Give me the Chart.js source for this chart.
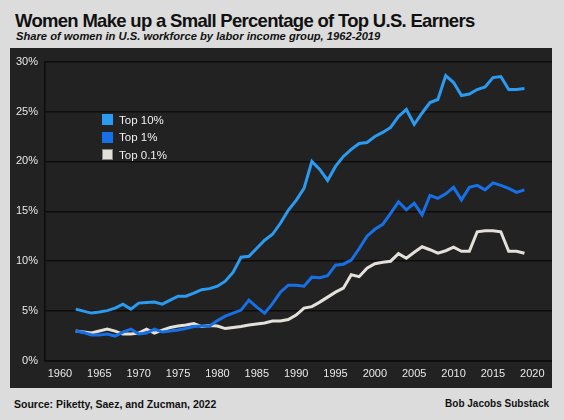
<!DOCTYPE html>
<html>
<head>
<meta charset="utf-8">
<script src="https://cdn.jsdelivr.net/npm/chart.js@4.4.1/dist/chart.umd.min.js"></script>
<style>
  html, body { margin: 0; padding: 0; }
  body {
    width: 564px; height: 420px; overflow: hidden; position: relative;
    background: #dcdcdc;
    font-family: "Liberation Sans", Arial, sans-serif;
  }
  #title { position: absolute; left: 15px; top: 10px; font-size: 18.5px; letter-spacing: -0.7px; font-weight: bold; color: #111; white-space: nowrap; }
  #subtitle { position: absolute; left: 16px; top: 30px; font-size: 11.2px; font-weight: bold; font-style: italic; color: #111; white-space: nowrap; }
  #panel { position: absolute; left: 10px; top: 48px; width: 542px; height: 340px; background: #222222; }
  #legend { position: absolute; left: 92px; top: 63px; }
  .item { display: flex; align-items: center; height: 17.5px; color: #f0f0f0; font-size: 11.5px; }
  .box { width: 11px; height: 11px; margin-right: 6px; box-sizing: border-box; }
  #source { position: absolute; left: 14px; top: 398px; font-size: 10.5px; font-weight: bold; color: #111; white-space: nowrap; }
  #credit { position: absolute; right: 15px; top: 398px; font-size: 10px; font-weight: bold; color: #111; white-space: nowrap; }
</style>
</head>
<body>
<div id="title">Women Make up a Small Percentage of Top U.S. Earners</div>
<div id="subtitle">Share of women in U.S. workforce by labor income group, 1962-2019</div>
<div id="panel">
  <canvas id="lineChart" width="542" height="340"></canvas>
  <div id="legend"></div>
</div>
<div id="source">Source: Piketty, Saez, and Zucman, 2022</div>
<div id="credit">Bob Jacobs Substack</div>
<script>
// Years 1962-2019
const years = [1962, 1963, 1964, 1965, 1966, 1967, 1968, 1969, 1970, 1971,
  1972, 1973, 1974, 1975, 1976, 1977, 1978, 1979, 1980, 1981,
  1982, 1983, 1984, 1985, 1986, 1987, 1988, 1989, 1990, 1991,
  1992, 1993, 1994, 1995, 1996, 1997, 1998, 1999, 2000, 2001,
  2002, 2003, 2004, 2005, 2006, 2007, 2008, 2009, 2010, 2011,
  2012, 2013, 2014, 2015, 2016, 2017, 2018, 2019];

// Share of women (%)
const top10 = [5.2, 5.0, 4.8, 4.9, 5.05, 5.3, 5.7, 5.2, 5.8, 5.85,
  5.9, 5.7, 6.1, 6.5, 6.5, 6.8, 7.15, 7.25, 7.5, 8.0,
  8.9, 10.4, 10.5, 11.3, 12.1, 12.7, 13.8, 15.1, 16.1, 17.3,
  20.0, 19.2, 18.1, 19.5, 20.5, 21.2, 21.8, 21.9, 22.5, 22.9,
  23.4, 24.5, 25.2, 23.7, 24.85, 25.9, 26.2, 28.6, 27.9, 26.6,
  26.75, 27.2, 27.45, 28.4, 28.5, 27.2, 27.2, 27.3];

const top1 = [3.0, 2.85, 2.6, 2.6, 2.7, 2.5, 2.9, 3.2, 2.7, 2.8,
  3.2, 2.9, 3.0, 3.1, 3.25, 3.45, 3.5, 3.5, 4.05, 4.5,
  4.8, 5.1, 6.1, 5.4, 4.8, 5.75, 6.9, 7.6, 7.6, 7.5,
  8.4, 8.35, 8.55, 9.6, 9.7, 10.1, 11.25, 12.5, 13.2, 13.7,
  14.8, 15.95, 15.15, 15.8, 14.65, 16.6, 16.3, 16.75, 17.4, 16.15,
  17.4, 17.6, 17.15, 17.85, 17.6, 17.3, 16.9, 17.15];

const top01 = [3.0, 2.9, 2.8, 3.0, 3.2, 3.0, 2.7, 2.7, 2.8, 3.2,
  2.8, 3.1, 3.35, 3.5, 3.6, 3.75, 3.45, 3.55, 3.5, 3.25,
  3.35, 3.45, 3.6, 3.7, 3.8, 4.0, 4.0, 4.15, 4.6, 5.3,
  5.45, 5.9, 6.4, 6.9, 7.3, 8.65, 8.45, 9.3, 9.75, 9.9,
  10.0, 10.75, 10.3, 10.9, 11.45, 11.15, 10.8, 11.05, 11.4, 11.0,
  11.0, 12.95, 13.05, 13.05, 12.95, 11.0, 11.0, 10.8];

const xTicks = [1960, 1965, 1970, 1975, 1980, 1985, 1990, 1995, 2000, 2005, 2010, 2015, 2020];
const yTicks = [0, 5, 10, 15, 20, 25, 30];

const seriesLabels = ['Top 10%', 'Top 1%', 'Top 0.1%'];
const seriesColors = ['#2a9bf0', '#1670e6', '#e4e0da'];

const toPoints = vals => years.map((yr, i) => ({ x: yr, y: vals[i] }));

const ctx = document.getElementById('lineChart').getContext('2d');
const chart = new Chart(ctx, {
    type: 'line',
    data: {
        datasets: [top10, top1, top01].map((vals, i) => ({
            label: seriesLabels[i],
            data: toPoints(vals),
            borderColor: seriesColors[i],
            backgroundColor: seriesColors[i],
            borderWidth: 3,
            pointRadius: 0,
            tension: 0
        }))
    },
    options: {
        responsive: false,
        animation: false,
        layout: { padding: { top: 4, right: 0, left: 0, bottom: 0 } },
        plugins: {
            legend: { display: false },
            tooltip: { enabled: false }
        },
        scales: {
            x: {
                type: 'linear',
                min: 1958.1,
                max: 2022.5,
                afterBuildTicks: scale => { scale.ticks = xTicks.map(v => ({ value: v })); },
                afterFit: scale => { scale.height = 27; },
                grid: { display: false, drawTicks: false },
                border: { display: true, color: '#0c0c0c', width: 1.5 },
                ticks: {
                    color: '#e8e8e8',
                    font: { family: 'Liberation Sans', size: 11 },
                    padding: 6,
                    maxRotation: 0,
                    callback: v => String(v)
                }
            },
            y: {
                min: 0,
                max: 30,
                afterBuildTicks: scale => { scale.ticks = yTicks.map(v => ({ value: v })); },
                afterFit: scale => { scale.width = 35; },
                grid: { color: '#0c0c0c', lineWidth: 1.5, drawTicks: false },
                border: { display: true, color: '#0c0c0c', width: 1.5 },
                ticks: {
                    color: '#e8e8e8',
                    font: { family: 'Liberation Sans', size: 11 },
                    padding: 7,
                    callback: v => v + '%'
                }
            }
        }
    }
});

// HTML legend built from the chart's datasets
const legendEl = document.getElementById('legend');
chart.data.datasets.forEach(ds => {
    const item = document.createElement('div');
    item.className = 'item';
    const box = document.createElement('span');
    box.className = 'box';
    box.style.background = ds.borderColor;
    if (ds.label === 'Top 0.1%') box.style.border = '1px solid #888';
    item.appendChild(box);
    item.appendChild(document.createTextNode(ds.label));
    legendEl.appendChild(item);
});
</script>
</body>
</html>
